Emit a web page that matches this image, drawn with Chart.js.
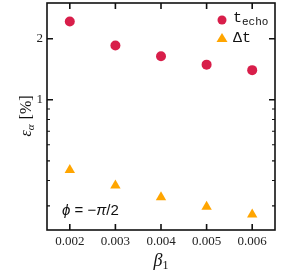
<!DOCTYPE html>
<html>
<head>
    <title>epsilon vs beta1</title>
    <script src="https://cdn.jsdelivr.net/npm/chart.js@4.4.0/dist/chart.umd.min.js"></script>
    <style>
        body { margin: 0; background: #fff; }
        #wrap { width: 281px; height: 273px; }
    </style>
</head>
<body>
    <div id="wrap"><canvas id="chart" width="281" height="273"></canvas></div>
    <script>
        // data
        const beta = [0.002, 0.003, 0.004, 0.005, 0.006];
        const errEcho = [2.43, 1.85, 1.64, 1.49, 1.40];
        const errDelta = [0.450, 0.378, 0.331, 0.297, 0.272];
        const xTicks = [0.002, 0.003, 0.004, 0.005, 0.006];
        const yTicks = [0.3, 0.4, 0.5, 0.6, 0.7, 0.8, 0.9, 1, 2];
        const yLabelled = [1, 2];

        const red = "#d81e4a";
        const orange = "#ffa500";
        const serif = "'Liberation Serif', 'DejaVu Serif', serif";

        function pts(ys) {
            return beta.map((b, i) => ({ x: b, y: ys[i] }));
        }

        // frame, inward ticks, titles, legend and note
        const decorations = {
            id: "decorations",
            afterDraw(chart) {
                const ctx = chart.ctx;
                const a = chart.chartArea;
                const xs = chart.scales.x, ys = chart.scales.y;
                ctx.save();
                ctx.strokeStyle = "#111";
                ctx.lineWidth = 1.6;
                ctx.strokeRect(a.left, a.top, a.right - a.left, a.bottom - a.top);

                // x ticks, bottom and top
                ctx.lineWidth = 1.6;
                xTicks.forEach(v => {
                    const px = xs.getPixelForValue(v);
                    ctx.beginPath();
                    ctx.moveTo(px, a.bottom); ctx.lineTo(px, a.bottom - 6);
                    ctx.moveTo(px, a.top); ctx.lineTo(px, a.top + 6);
                    ctx.stroke();
                });
                // y ticks, left and right
                yTicks.forEach(v => {
                    const py = ys.getPixelForValue(v);
                    if (py < a.top + 0.5 || py > a.bottom - 0.5) return;
                    const major = yLabelled.includes(v);
                    const len = major ? 6 : 3;
                    ctx.lineWidth = major ? 1.6 : 1.1;
                    ctx.beginPath();
                    ctx.moveTo(a.left, py); ctx.lineTo(a.left + len, py);
                    ctx.moveTo(a.right, py); ctx.lineTo(a.right - len, py);
                    ctx.stroke();
                });

                ctx.fillStyle = "#111";
                ctx.textBaseline = "alphabetic";

                // y title: eps_alpha [%]
                ctx.save();
                ctx.translate(31, (a.top + a.bottom) / 2);
                ctx.rotate(-Math.PI / 2);
                const f1 = "italic 16px " + serif;
                const f2 = "italic 11px " + serif;
                const f3 = "16px " + serif;
                ctx.font = f1; const w1 = ctx.measureText("\u03b5").width;
                ctx.font = f2; const w2 = ctx.measureText("\u03b1").width;
                ctx.font = f3; const w3 = ctx.measureText(" [%]").width;
                let x0 = -(w1 + w2 + w3) / 2;
                ctx.textAlign = "left";
                ctx.font = f1; ctx.fillText("\u03b5", x0, 0);
                ctx.font = f2; ctx.fillText("\u03b1", x0 + w1, 3);
                ctx.font = f3; ctx.fillText(" [%]", x0 + w1 + w2 + 1, 0);
                ctx.restore();

                // x title: beta_1
                const cx = (a.left + a.right) / 2;
                ctx.font = "italic 18px " + serif;
                const wb = ctx.measureText("\u03b2").width;
                ctx.font = "12px " + serif;
                const ws = ctx.measureText("1").width;
                ctx.textAlign = "left";
                ctx.font = "italic 18px " + serif;
                ctx.fillText("\u03b2", cx - (wb + ws) / 2, 266);
                ctx.font = "12px " + serif;
                ctx.fillText("1", cx - (wb + ws) / 2 + wb, 269);

                // legend
                const mono = "'Liberation Mono', 'DejaVu Sans Mono', monospace";
                ctx.fillStyle = red;
                ctx.beginPath(); ctx.arc(222, 20, 4.5, 0, Math.PI * 2); ctx.fill();
                ctx.fillStyle = orange;
                ctx.beginPath();
                ctx.moveTo(222, 33); ctx.lineTo(227.5, 42); ctx.lineTo(216.5, 42);
                ctx.closePath(); ctx.fill();
                ctx.fillStyle = "#111";
                ctx.font = "15px " + mono;
                ctx.fillText("t", 233, 22);
                const wt = ctx.measureText("t").width;
                ctx.font = "11px " + mono;
                ctx.fillText("echo", 233 + wt, 25);
                ctx.font = "15px " + mono;
                ctx.fillText("\u0394t", 233, 42);

                // note
                const sans = "'Liberation Sans', Arial, sans-serif";
                let nx = 62;
                const parts = [["\u03d5", "italic"], [" = \u2212", ""], ["\u03c0", "italic"], ["/2", ""]];
                parts.forEach(p => {
                    ctx.font = (p[1] ? p[1] + " " : "") + "15px " + sans;
                    ctx.fillText(p[0], nx, 215);
                    nx += ctx.measureText(p[0]).width;
                });
                ctx.restore();
            }
        };

        new Chart(document.getElementById("chart"), {
            type: "scatter",
            data: {
                datasets: [
                    {
                        label: "t_echo",
                        data: pts(errEcho),
                        pointStyle: "circle",
                        pointRadius: 5,
                        backgroundColor: red,
                        borderColor: red,
                        borderWidth: 0
                    },
                    {
                        label: "\u0394t",
                        data: pts(errDelta),
                        pointStyle: "triangle",
                        pointRadius: 6,
                        backgroundColor: orange,
                        borderColor: orange,
                        borderWidth: 0
                    }
                ]
            },
            options: {
                responsive: false,
                animation: false,
                layout: { autoPadding: false, padding: { top: 3, right: 6, left: 0, bottom: 0 } },
                plugins: { legend: { display: false }, tooltip: { enabled: false } },
                scales: {
                    x: {
                        type: "linear",
                        min: 0.0015,
                        max: 0.0065,
                        grid: { display: false, drawTicks: false },
                        border: { display: false },
                        afterBuildTicks: s => { s.ticks = xTicks.map(v => ({ value: v })); },
                        afterFit: s => { s.height = 43; s.paddingLeft = 0; s.paddingRight = 0; },
                        ticks: {
                            padding: 4,
                            color: "#222",
                            font: { family: serif, size: 13 },
                            callback: v => v.toFixed(3)
                        }
                    },
                    y: {
                        type: "logarithmic",
                        min: 0.228,
                        max: 3.0,
                        grid: { display: false, drawTicks: false },
                        border: { display: false },
                        afterBuildTicks: s => { s.ticks = yTicks.map(v => ({ value: v })); },
                        afterFit: s => { s.width = 47; s.paddingTop = 0; s.paddingBottom = 0; },
                        ticks: {
                            padding: 4,
                            color: "#222",
                            autoSkip: false,
                            font: { family: serif, size: 13 },
                            callback: v => yLabelled.includes(v) ? String(v) : ""
                        }
                    }
                }
            },
            plugins: [decorations]
        });
    </script>
</body>
</html>
